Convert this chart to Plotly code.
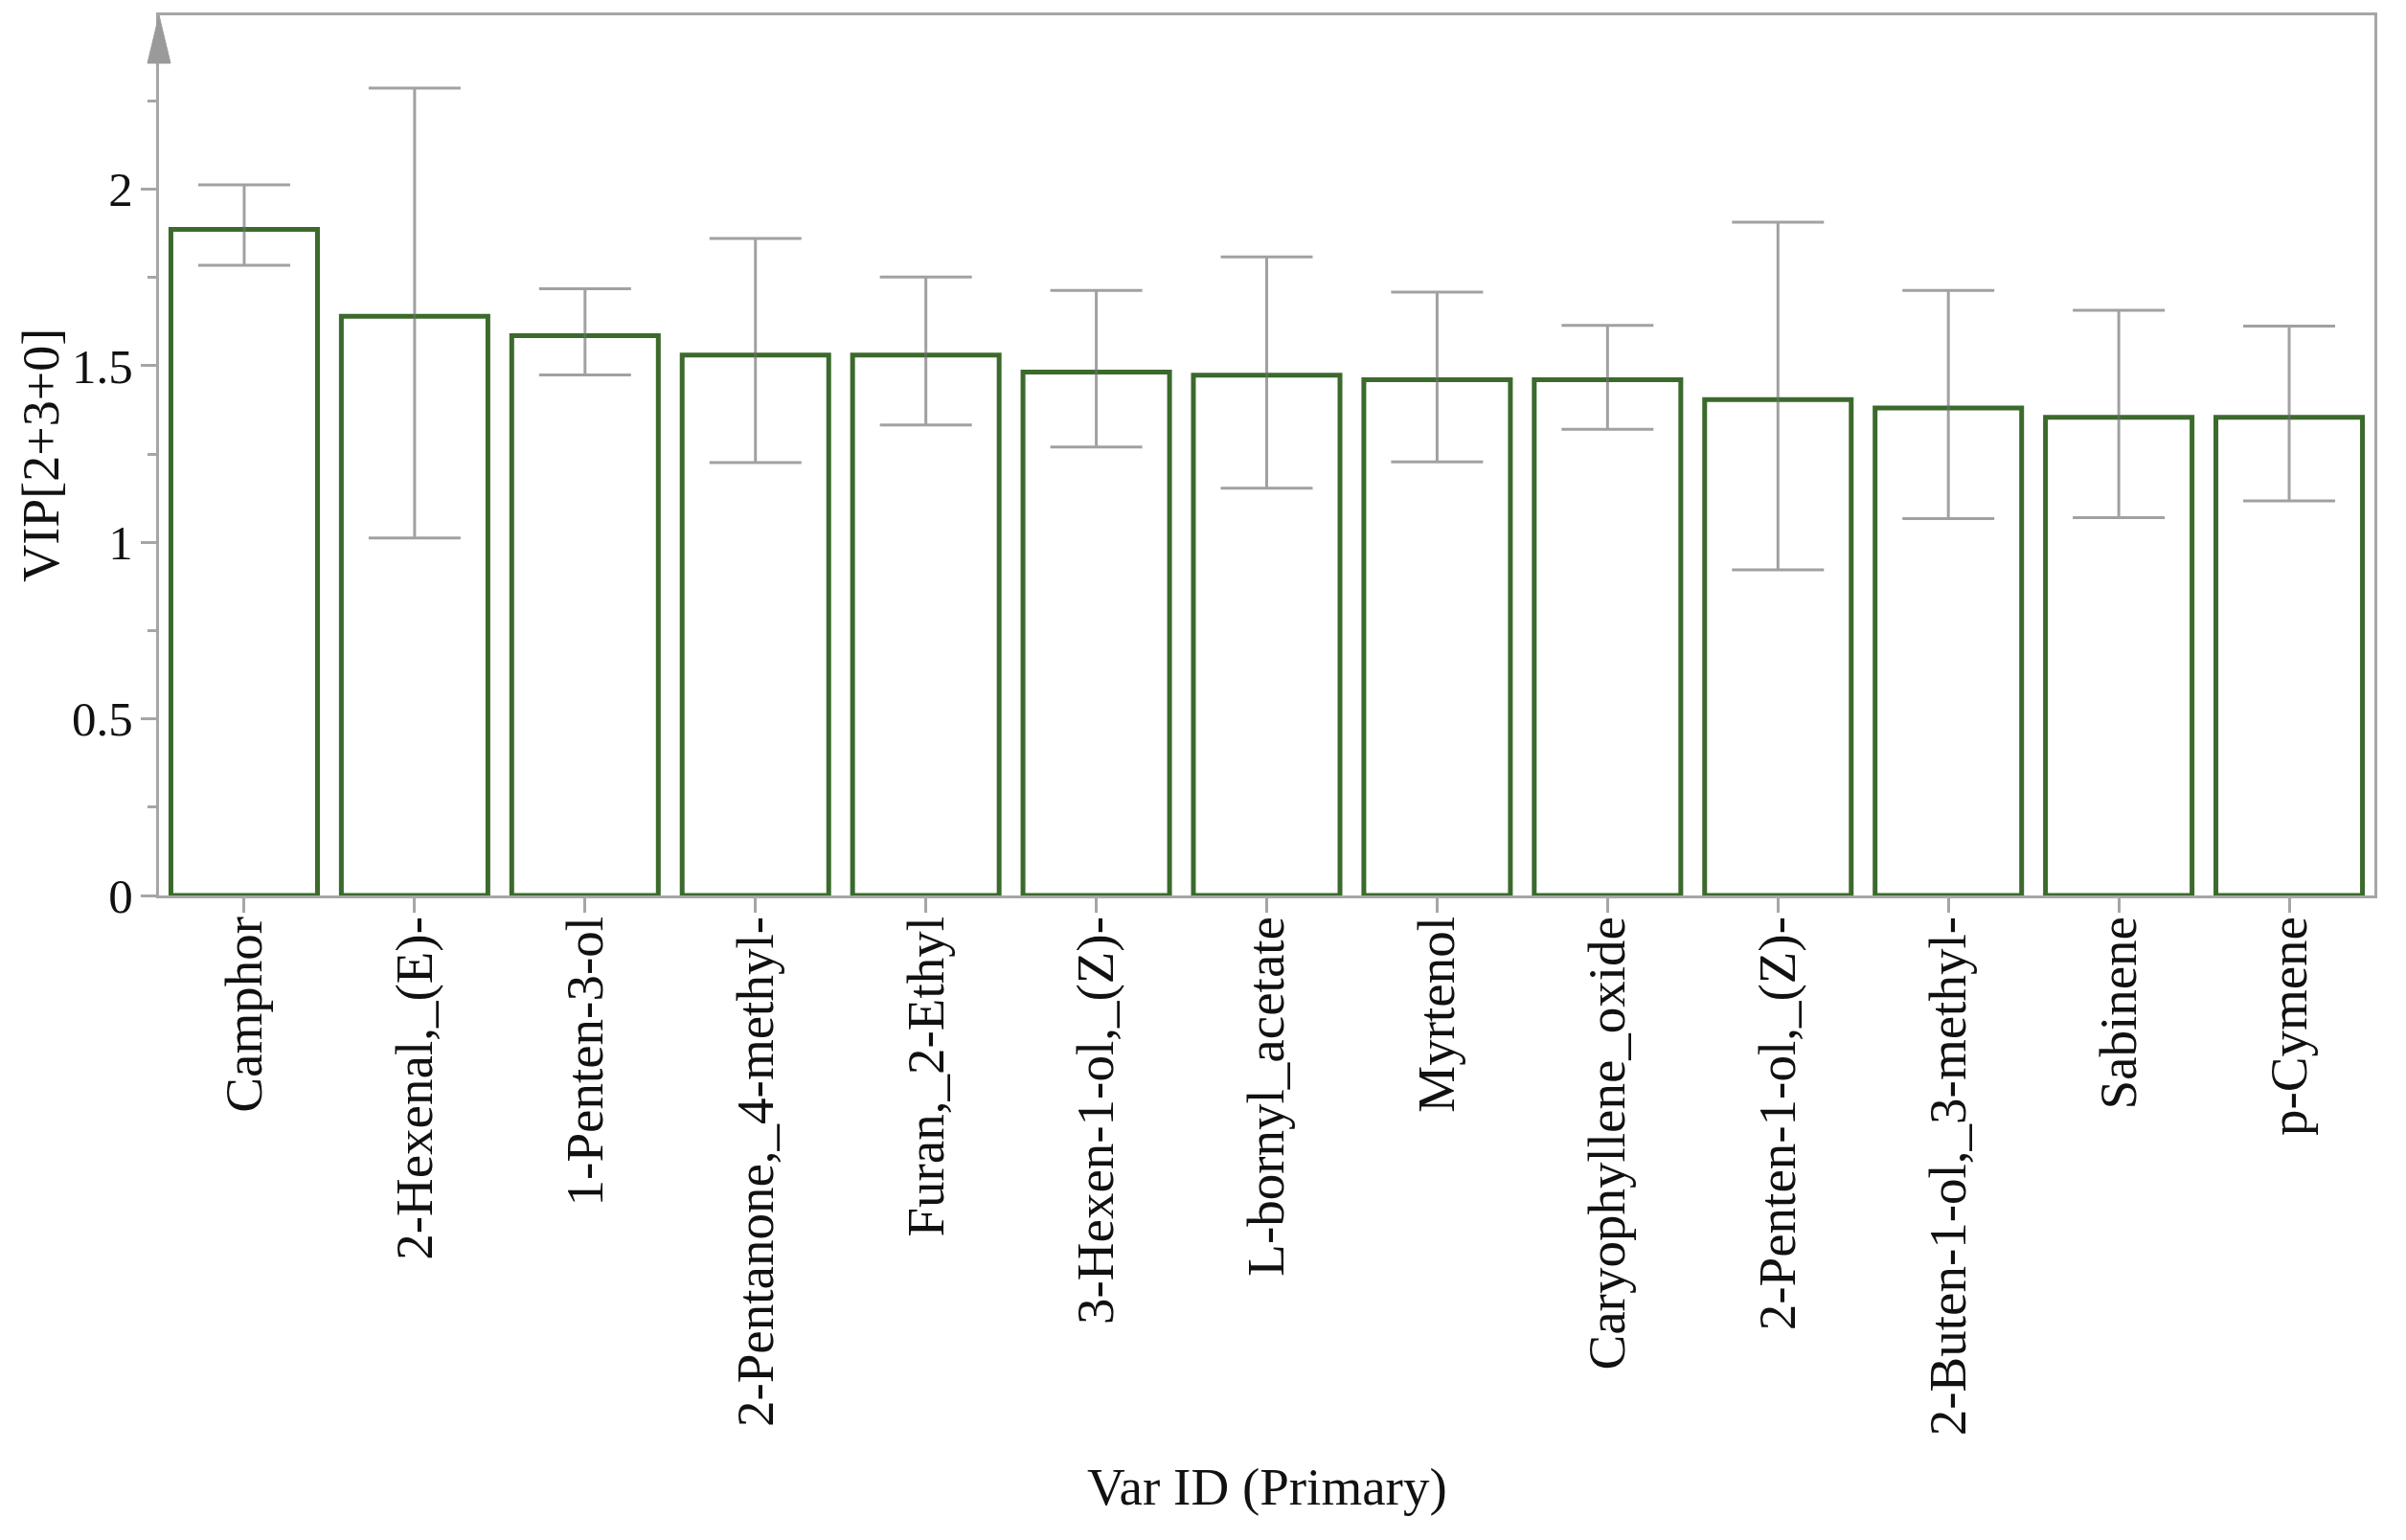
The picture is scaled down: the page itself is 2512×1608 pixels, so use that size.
import plotly.graph_objects as go

categories = ["Camphor", "2-Hexenal,_(E)-", "1-Penten-3-ol", "2-Pentanone,_4-methyl-",
              "Furan,_2-Ethyl", "3-Hexen-1-ol,_(Z)-", "L-bornyl_acetate", "Myrtenol",
              "Caryophyllene_oxide", "2-Penten-1-ol,_(Z)-", "2-Buten-1-ol,_3-methyl-",
              "Sabinene", "p-Cymene"]
vip = [1.886, 1.640, 1.585, 1.530, 1.530, 1.482, 1.473, 1.460, 1.460, 1.404, 1.380, 1.354, 1.354]
err_high = [2.012, 2.286, 1.718, 1.860, 1.751, 1.713, 1.808, 1.708, 1.614, 1.906, 1.713, 1.657, 1.612]
err_low = [1.784, 1.012, 1.474, 1.226, 1.332, 1.270, 1.153, 1.228, 1.320, 0.922, 1.067, 1.070, 1.117]
y_ticks = [0, 0.5, 1, 1.5, 2]
y_tick_labels = ["0", "0.5", "1", "1.5", "2"]

plus = [h - v for h, v in zip(err_high, vip)]
minus = [v - l for v, l in zip(vip, err_low)]

FONT = "Liberation Serif, Times New Roman, serif"
AXIS_GRAY = "#a6a6a6"

fig = go.Figure()
fig.add_trace(go.Bar(
    x=categories, y=vip,
    marker=dict(color="white", line=dict(color="#3b6a2c", width=5)),
    error_y=dict(type="data", symmetric=False, array=plus, arrayminus=minus,
                 color="rgba(110,110,110,0.65)", thickness=3, width=48),
    showlegend=False,
))

fig.update_layout(
    width=2512, height=1608,
    margin=dict(l=158, r=41, t=5, b=681),
    paper_bgcolor="white", plot_bgcolor="white",
    bargap=0.14,
    font=dict(family=FONT, size=55, color="#111111"),
    xaxis=dict(
        showgrid=False, showline=True, linecolor=AXIS_GRAY, linewidth=3, mirror=True,
        ticks="outside", ticklen=15, tickwidth=3, tickcolor=AXIS_GRAY,
        tickangle=-90, tickfont=dict(family=FONT, size=55, color="#111111"),
        ticklabelstandoff=-18,
    ),
    yaxis=dict(
        range=[0, 2.492], showgrid=False, zeroline=False,
        showline=True, linecolor=AXIS_GRAY, linewidth=3, mirror=True,
        ticks="outside", ticklen=16, tickwidth=3, tickcolor=AXIS_GRAY,
        tickvals=y_ticks, ticktext=y_tick_labels,
        tickfont=dict(family=FONT, size=51, color="#111111"),
        minor=dict(dtick=0.25, tick0=0, ticks="outside", ticklen=9, tickwidth=3,
                   tickcolor=AXIS_GRAY, showgrid=False),
        ticklabelstandoff=-2,
    ),
    annotations=[
        dict(text="VIP[2+3+0]", xref="paper", yref="paper", x=-0.0535, y=0.5,
             textangle=-90, showarrow=False, xanchor="center", yanchor="middle",
             font=dict(family=FONT, size=54, color="#111111")),
        dict(text="Var ID (Primary)", xref="paper", yref="paper", x=0.5, y=-0.672,
             showarrow=False, xanchor="center", yanchor="middle",
             font=dict(family=FONT, size=55, color="#111111")),
    ],
    shapes=[
        dict(type="path", xref="paper", yref="paper", xsizemode="pixel", ysizemode="pixel",
             xanchor=0, yanchor=1, path="M -12,-50 L 12,-50 L 0,0 Z",
             fillcolor="#9a9a9a", line=dict(color="#9a9a9a", width=1)),
    ],
)

fig.write_html("out.html")
